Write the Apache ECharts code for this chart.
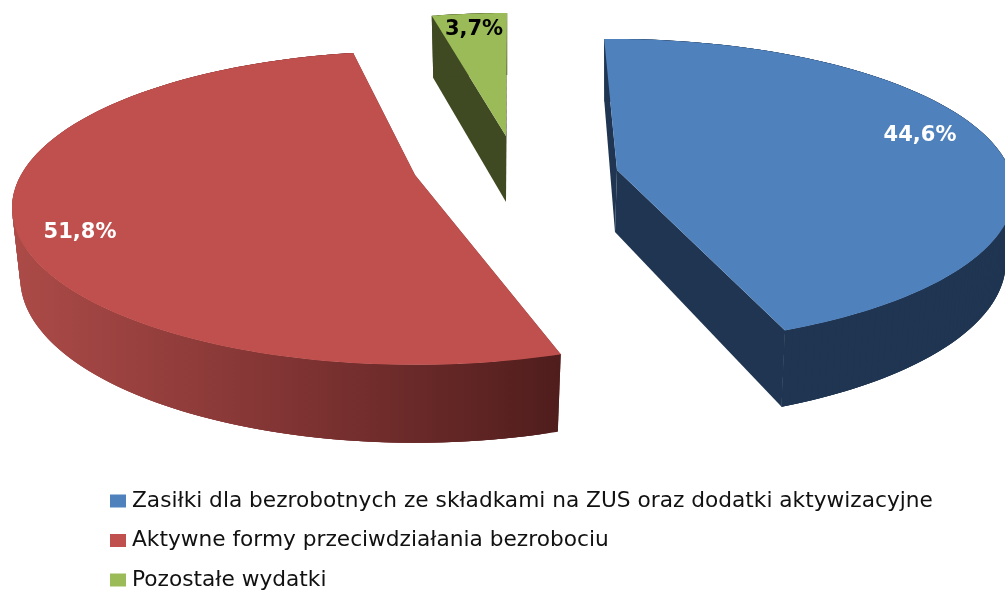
<!DOCTYPE html>
<html><head><meta charset="utf-8">
<style>html,body{margin:0;padding:0;background:#fff}#c{width:1005px;height:590px}</style>
<script src="https://cdn.jsdelivr.net/npm/echarts@6/dist/echarts.min.js"></script>
</head><body><div id="c"></div>
<script>
// data
const categories = ['Zasiłki dla bezrobotnych ze składkami na ZUS oraz dodatki aktywizacyjne','Aktywne formy przeciwdziałania bezrobociu','Pozostałe wydatki'];
const shares = [44.6, 51.8, 3.7];
// colours
const topColors = ['#4F81BD','#C0504D','#9BBB59'];
const wallColors = ['#1F3551','#7B3130','#404A22'];
const labelColors = ['#ffffff','#ffffff','#000000'];
// 3D view layout (one entry per slice)
const rimCentres = [[611,160],[415,175],[507,137]];
const hubs = [[617,170],[415,175],[506,136]];
const hubLows = [[615,232],[415,243],[506,202]];
const startAngles = [-1.2,162.8,-13.3];
const labelSpots = [[920,136],[80,233],[474,30]];
const topDepths = [146.5,150,150];
const lowDepths = [153.4,157.6,157.6];
const A=394,TILT=0.21,A2=386,DROP=68.3;
const total = shares.reduce((a,b)=>a+b,0);

function rim(c,deg,a,b,d){
  const t=deg*Math.PI/180,X=Math.sin(t),Z=-Math.cos(t),k=1-TILT*Z;
  return [c[0]+a*X/k,c[1]+d+b*Z/k];
}
function renderSlice(i){
  return function(params,api){
    const span=api.value(0)/total*360,s=startAngles[i],c=rimCentres[i],h=hubs[i],hLo=hubLows[i];
    const n=Math.max(8,Math.ceil(span));
    const up=[],lo=[];
    for(let k=0;k<=n;k++){
      const d=s+span*k/n;
      up.push(rim(c,d,A,topDepths[i],0));lo.push(rim(c,d,A2,lowDepths[i],DROP));
    }
    const wallFill=i===1?new echarts.graphic.LinearGradient(0,0,1005,0,[
      {offset:0,color:'#AE4C49'},{offset:0.3,color:'#7E3332'},{offset:0.56,color:'#4F1D1C'},{offset:1,color:'#4F1D1C'}],true):wallColors[i];
    const poly=(pts,fill)=>({type:'polygon',shape:{points:pts},style:{fill:fill},silent:true});
    const children=[
      poly([h,up[0],lo[0],hLo],wallColors[i]),
      poly([h,up[n],lo[n],hLo],wallColors[i])
    ];
    // overlapping quads hide the seams between wall facets
    for(let k=0;k<n;k++){
      const e=Math.min(n,k+3);
      children.push(poly([up[k],up[e],lo[e],lo[k]],wallFill));
    }
    children.push(
      poly([h].concat(up),topColors[i]),
      {type:'text',x:labelSpots[i][0],y:labelSpots[i][1],silent:true,style:{
        text:api.value(0).toFixed(1).replace('.',',')+'%',fill:labelColors[i],
        font:'bold 21px "DejaVu Sans"',align:'center',verticalAlign:'middle'}}
    );
    return {type:'group',children};
  };
}
const chart=echarts.init(document.getElementById('c'),null,{renderer:'canvas'});
chart.setOption({
  animation:false,
  backgroundColor:'#fff',
  legend:{
    orient:'vertical',left:110,top:490,height:130,width:880,itemWidth:16,itemHeight:13,itemGap:17.5,icon:'rect',
    selectedMode:false,padding:0,
    textStyle:{fontFamily:'DejaVu Sans',fontSize:21.7,color:'#111',padding:[0,0,0,1],lineHeight:22},
    data:categories
  },
  series:categories.map((name,i)=>({
    type:'custom',name,coordinateSystem:'none',
    itemStyle:{color:topColors[i]},
    renderItem:renderSlice(i),
    data:[[shares[i]]]
  }))
});
</script></body></html>
